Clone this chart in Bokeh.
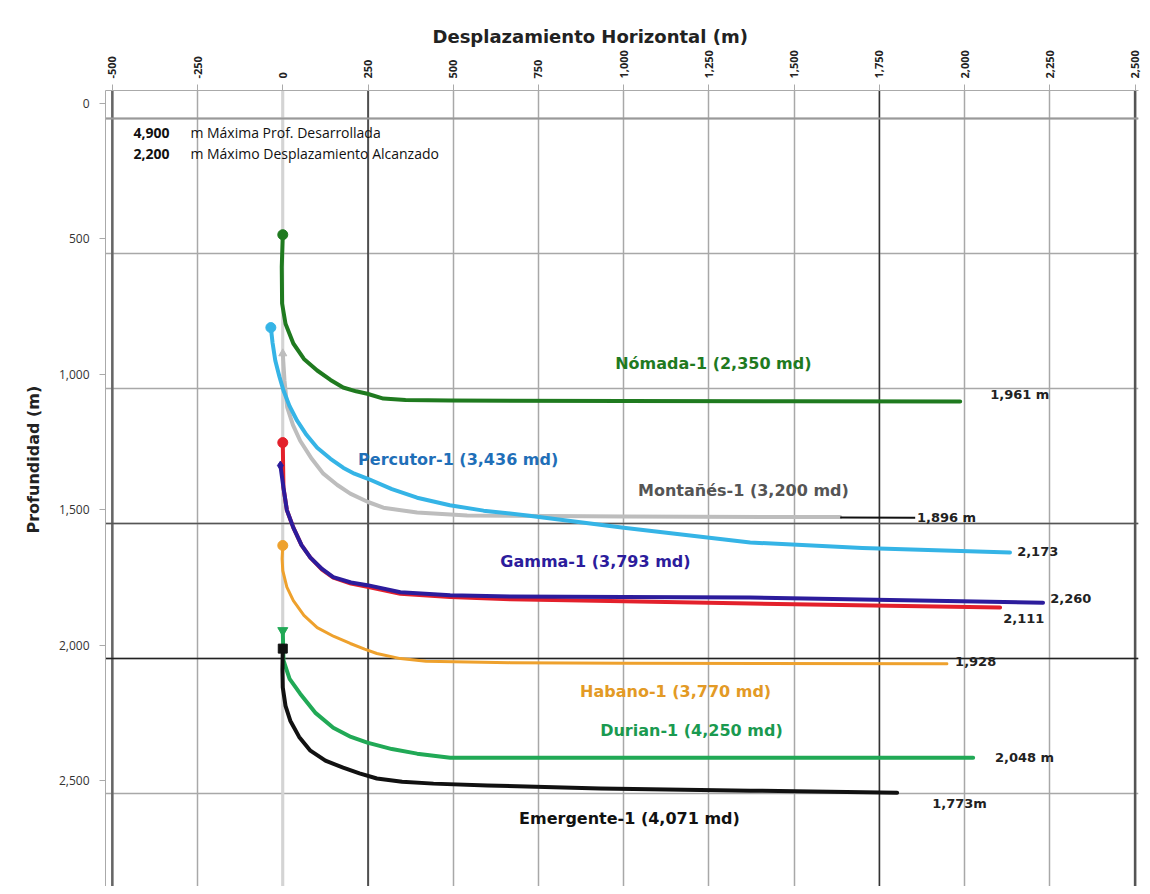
import math
from bokeh.plotting import figure
from bokeh.models import Range1d, Span, FixedTicker, NumeralTickFormatter, LinearAxis, Title
from bokeh.core.properties import value
from bokeh.embed import file_html
from bokeh.resources import INLINE

# ---------------- data (horizontal displacement m, depth m) ----------------
nomada_x = [0, -3, -2, 8, 31, 62, 101, 140, 177, 215, 248, 295, 360, 491, 1000, 1500, 1987]
nomada_y = [430, 550, 685, 760, 833, 890, 933, 968, 996, 1010, 1019, 1037, 1042, 1044, 1046, 1047, 1048]

percutor_x = [-35, -30, -22, -10, 2, 20, 42, 70, 101, 140, 177, 210, 248, 320, 394, 490, 589, 717,
              1000, 1371, 1700, 2133]
percutor_y = [774, 830, 896, 955, 1007, 1065, 1119, 1172, 1219, 1260, 1293, 1315, 1333, 1372, 1404,
              1432, 1452, 1470, 1515, 1570, 1590, 1607]

montanes_x = [0, 5, 13, 30, 51, 85, 119, 160, 198, 250, 295, 394, 541, 1000, 1635]
montanes_y = [870, 970, 1070, 1135, 1193, 1260, 1315, 1357, 1389, 1420, 1441, 1459, 1470, 1474, 1476]
montanes_end_x = [1635, 1855]
montanes_end_y = [1477, 1478]

red_x = [0, 1, 2, 12, 31, 55, 81, 115, 148, 200, 248, 345, 491, 667, 1000, 1371, 2104]
red_y = [1200, 1290, 1367, 1450, 1515, 1580, 1626, 1670, 1700, 1722, 1734, 1760, 1772, 1780, 1788,
         1796, 1811]

gamma_x = [-7, -2, 2, 12, 31, 55, 81, 115, 148, 200, 248, 345, 491, 667, 1000, 1371, 2230]
gamma_y = [1285, 1330, 1367, 1450, 1515, 1580, 1626, 1668, 1698, 1718, 1728, 1754, 1765, 1770, 1772,
           1774, 1793]

habano_x = [0, -2, 0, 12, 31, 62, 101, 150, 198, 240, 276, 345, 420, 667, 1000, 1948]
habano_y = [1581, 1630, 1674, 1735, 1785, 1840, 1885, 1918, 1944, 1965, 1981, 2000, 2010, 2015, 2017,
            2019]

durian_x = [0, 1, 2, 20, 51, 95, 148, 200, 248, 320, 394, 491, 1000, 2025]
durian_y = [1896, 1950, 2007, 2075, 2130, 2200, 2256, 2290, 2311, 2335, 2352, 2367, 2367, 2367]

emerg_x = [0, -1, 0, 8, 22, 48, 81, 125, 177, 225, 276, 350, 442, 600, 931, 1371, 1802]
emerg_y = [1963, 2040, 2107, 2175, 2230, 2290, 2341, 2378, 2404, 2425, 2444, 2456, 2463, 2470, 2481,
           2489, 2497]

x_ticks = [-500, -250, 0, 250, 500, 750, 1000, 1250, 1500, 1750, 2000, 2250, 2500]
y_ticks = [0, 500, 1000, 1500, 2000, 2500]

well_names = ["Nómada-1 (2,350 md)", "Percutor-1 (3,436 md)", "Montañés-1 (3,200 md)",
              "Gamma-1 (3,793 md)", "Habano-1 (3,770 md)", "Durian-1 (4,250 md)",
              "Emergente-1 (4,071 md)"]
well_name_x = [975, 221, 1042, 638, 872, 931, 693]
well_name_y = [907, 1263, 1378, 1641, 2122, 2267, 2593]

end_labels = ["1,961 m", "1,896 m", "2,173", "2,260", "2,111", "1,928", "2,048 m", "1,773m"]
end_label_x = [2075, 1860, 2154, 2251, 2113, 1972, 2089, 1905]
end_label_y = [1022, 1478, 1604, 1778, 1852, 2011, 2367, 2537]

header_values = ["4,900", "2,200"]
header_texts = ["m Máxima Prof. Desarrollada", "m Máximo Desplazamiento Alcanzado"]
header_y = [52, 130]

# ---------------- figure ----------------
p = figure(frame_width=1033, frame_height=796,
           x_range=Range1d(-520, 2510), y_range=Range1d(2844, -104),
           x_axis_location="above", output_backend="svg", toolbar_location=None,
           min_border_left=105, min_border_top=90, min_border_right=5, min_border_bottom=0)
p.outline_line_color = None
p.background_fill_color = "white"

# the depth axis of the original is drawn slightly offset from its grid
p.extra_y_ranges = {"axis": Range1d(2891, -48)}
p.yaxis.visible = False

FONT = "Open Sans"
xa = p.xaxis[0]
xa.ticker = FixedTicker(ticks=x_ticks)
xa.formatter = NumeralTickFormatter(format="0,0")
xa.major_label_orientation = math.pi / 2
xa.major_label_text_font = FONT
xa.major_label_text_font_style = "bold"
xa.major_label_text_font_size = "11px"
xa.major_label_text_color = "#222222"
xa.major_label_standoff = 6
xa.axis_line_color = "#aaaaaa"
xa.major_tick_line_color = "#aaaaaa"
xa.major_tick_out = 6
xa.major_tick_in = 0
xa.minor_tick_line_color = None

p.add_layout(Title(text="Desplazamiento Horizontal (m)", align="left", offset=327,
                   text_font="DejaVu Sans", text_font_style="bold", text_font_size="18px",
                   text_color="#222222", standoff=2), "above")

ya = LinearAxis(y_range_name="axis")
ya.ticker = FixedTicker(ticks=y_ticks)
ya.formatter = NumeralTickFormatter(format="0,0")
ya.major_label_text_font = FONT
ya.major_label_text_font_size = "12px"
ya.major_label_text_color = "#333333"
ya.major_label_standoff = 10
ya.axis_line_color = "#aaaaaa"
ya.major_tick_line_color = "#aaaaaa"
ya.major_tick_out = 6
ya.major_tick_in = 0
ya.minor_tick_line_color = None
p.add_layout(ya, "left")

p.add_layout(Title(text="Profundidad (m)", align="left", offset=353,
                   text_font="DejaVu Sans", text_font_style="bold", text_font_size="16px",
                   text_color="#222222", standoff=26), "left")

p.xgrid.ticker = FixedTicker(ticks=x_ticks)
p.ygrid.ticker = FixedTicker(ticks=y_ticks)
p.grid.grid_line_color = "#a8a8a8"
p.grid.grid_line_width = 1.5

for loc, dim, col, w in [(0, "height", "#d4d4d4", 3), (250, "height", "#333333", 1.5),
                         (1750, "height", "#333333", 1.5), (-500, "height", "#666666", 2.5),
                         (2500, "height", "#555555", 2.5), (0, "width", "#999999", 2),
                         (1500, "width", "#555555", 1.5), (2000, "width", "#222222", 1.5)]:
    p.add_layout(Span(location=loc, dimension=dim, line_color=col, line_width=w, level="underlay"))

# ---------------- curves ----------------
LW = 4
kw = dict(line_join="round", line_cap="round")
p.line(montanes_x, montanes_y, line_color="#bdbdbd", line_width=LW, **kw)
p.line(montanes_end_x, montanes_end_y, line_color="#111111", line_width=2)
p.line(nomada_x, nomada_y, line_color="#1f7a1f", line_width=LW, **kw)
p.line(percutor_x, percutor_y, line_color="#35b4e6", line_width=LW, **kw)
p.line(red_x, red_y, line_color="#e3202b", line_width=LW, **kw)
p.line(gamma_x, gamma_y, line_color="#2c1c9c", line_width=LW, **kw)
p.line(habano_x, habano_y, line_color="#eea12d", line_width=3, **kw)
p.line(durian_x, durian_y, line_color="#21a956", line_width=LW, **kw)
p.line(emerg_x, emerg_y, line_color="#111111", line_width=LW, **kw)

p.scatter([montanes_x[0]], [montanes_y[0]], marker="triangle", size=8, color="#bdbdbd")
p.scatter([nomada_x[0]], [nomada_y[0]], marker="circle", size=10, color="#1f7a1f")
p.scatter([percutor_x[0]], [percutor_y[0]], marker="circle", size=10, color="#35b4e6")
p.scatter([red_x[0]], [red_y[0]], marker="circle", size=10, color="#e3202b")
p.scatter([gamma_x[0]], [gamma_y[0]], marker="diamond", size=9, color="#2c1c9c")
p.scatter([habano_x[0]], [habano_y[0]], marker="circle", size=10, color="#eea12d")
p.scatter([durian_x[0]], [durian_y[0]], marker="inverted_triangle", size=10, color="#21a956")
p.scatter([emerg_x[0]], [emerg_y[0]], marker="square", size=9, color="#111111")

# ---------------- text ----------------
name_colors = ["#1f7a1f", "#1f6fb8", "#555555", "#2c1c9c", "#e39a25", "#1a9a50", "#111111"]
p.text(well_name_x, well_name_y, text=well_names, text_color=name_colors,
       text_font=value("DejaVu Sans"), text_font_style="bold", text_font_size="16px",
       text_baseline="middle", text_align="left")

p.text(end_label_x, end_label_y, text=end_labels, text_color="#222222",
       text_font=value("DejaVu Sans"), text_font_style="bold", text_font_size="13px",
       text_baseline="middle", text_align="left")

p.text([-438, -438], header_y, text=header_values, text_color="#111111",
       text_font=value(FONT), text_font_style="bold", text_font_size="14px",
       text_baseline="middle", text_align="left")
p.text([-271, -271], header_y, text=header_texts, text_color="#111111",
       text_font=value(FONT), text_font_size="14px",
       text_baseline="middle", text_align="left")

open("out.html", "w").write(file_html(p, INLINE))
